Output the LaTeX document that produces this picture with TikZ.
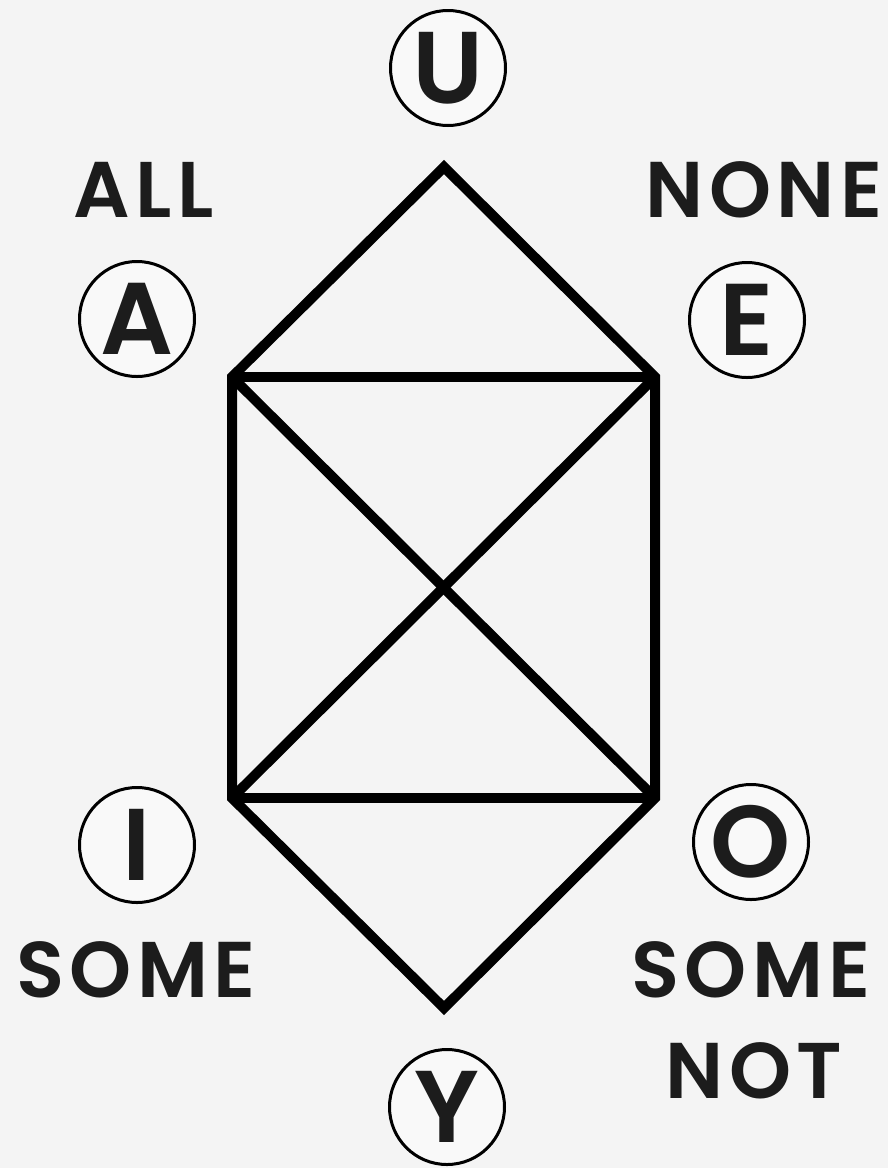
\documentclass[tikz,border=0pt]{standalone}
\usepackage{fontspec}
\newfontfamily\popfont{Poppins SemiBold}
\newfontfamily\popwide{Poppins SemiBold}[LetterSpace=7]
\definecolor{bg}{HTML}{F4F4F4}
\definecolor{cfill}{HTML}{F9F9F9}
\definecolor{ink}{HTML}{1C1C1C}
\tikzset{
  vowel/.style={circle, draw=black, line width=3pt, fill=cfill, minimum size=115pt, inner sep=0pt, text=ink, font=\popfont\fontsize{102}{110}\selectfont},
  label/.style={anchor=base, inner sep=0pt, text=ink, font=\popwide\fontsize{79}{85}\selectfont},
  edge/.style={line width=10pt, draw=black, line join=miter}
}
\begin{document}
\begin{tikzpicture}[x=1pt,y=-1pt]
\fill[bg] (0,0) rectangle (888,1168);
\useasboundingbox (0,0) rectangle (888,1168);
% hexagon corners
\coordinate (pU) at (444,167);
\coordinate (pA) at (232,377);
\coordinate (pE) at (655,377);
\coordinate (pI) at (232,798);
\coordinate (pO) at (655,798);
\coordinate (pY) at (444,1008);
\draw[edge] (pU) -- (pA) -- (pI) -- (pY) -- (pO) -- (pE) -- cycle;
\draw[edge] (pA) -- (pE);
\draw[edge] (pI) -- (pO);
\draw[edge] (pA) -- (pO);
\draw[edge] (pE) -- (pI);
% vowel circles
\node[vowel] (U) at (448,68) {U};
\node[vowel] (A) at (137,319) {A};
\node[vowel] (E) at (747,320) {E};
\node[vowel] (I) at (137,845) {I};
\node[vowel] (O) at (751,842) {O};
\node[vowel] (Y) at (447,1107) {Y};
% labels
\node[label] (lall) at (144,217) {ALL};
\node[label] (lnone) at (764,217) {NONE};
\node[label] (lsome) at (136,997) {SOME};
\node[label] (lsome2) at (751,997) {SOME};
\node[label] (lnot) at (754,1098) {NOT};
\end{tikzpicture}
\end{document}
